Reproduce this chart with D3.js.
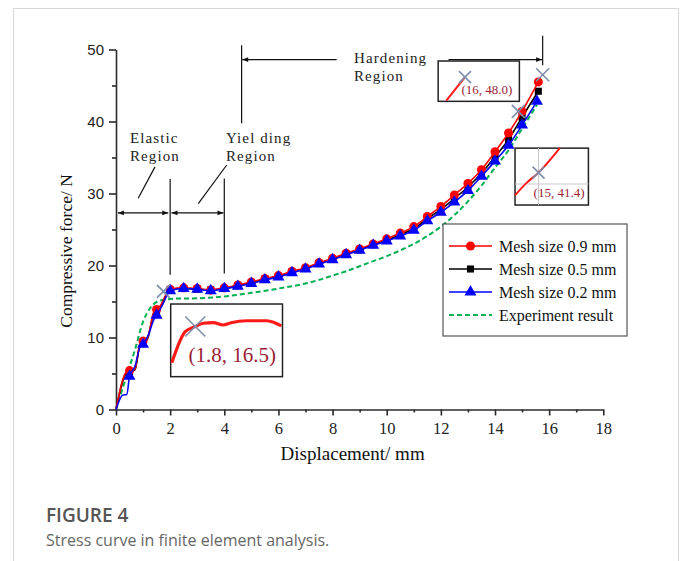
<!DOCTYPE html>
<html>
<head>
<meta charset="utf-8">
<script src="https://cdn.jsdelivr.net/npm/d3@7"></script>
<style>
body { margin: 0; background: #fff; }
</style>
</head>
<body>
<div id="chart"></div>
<script>
const width = 680, height = 561;
const SERIF = "'Liberation Serif', 'Times New Roman', serif";
const SANS = "'Liberation Sans', Arial, sans-serif";
const CAP = "'Open Sans', 'Noto Sans', sans-serif";

// displacement (mm) / force (N) for each series
const mesh09X = [0, 0.4, 0.5, 0.7, 0.9, 1, 1.15, 1.4, 1.5, 1.6, 2, 2.5, 3, 3.5, 4, 4.5, 5, 5.5, 6, 6.5, 7, 7.5, 8, 8.5, 9, 9.5, 10, 10.5, 11, 11.5, 12, 12.5, 13, 13.5, 14, 14.5, 15, 15.6];
const mesh09Y = [0, 5.3, 5.4, 5.6, 9.4, 9.5, 9.8, 13.6, 13.9, 14.2, 16.7, 16.9, 16.8, 16.6, 16.9, 17.3, 17.7, 18.2, 18.6, 19.2, 19.7, 20.4, 21.0, 21.7, 22.3, 23.0, 23.7, 24.5, 25.4, 26.8, 28.2, 29.8, 31.4, 33.3, 35.8, 38.4, 41.4, 45.5];
const mesh05X = [0, 0.4, 0.5, 0.7, 0.9, 1, 1.15, 1.4, 1.5, 1.6, 2, 2.5, 3, 3.5, 4, 4.5, 5, 5.5, 6, 6.5, 7, 7.5, 8, 8.5, 9, 9.5, 10, 10.5, 11, 11.5, 12, 12.5, 13, 13.5, 14, 14.5, 15, 15.6];
const mesh05Y = [0, 5.1, 5.2, 5.5, 9.2, 9.4, 9.7, 13.4, 13.7, 14.1, 16.6, 16.8, 16.7, 16.6, 16.8, 17.2, 17.6, 18.1, 18.5, 19.1, 19.6, 20.3, 20.9, 21.6, 22.2, 22.9, 23.5, 24.3, 25.1, 26.5, 27.8, 29.3, 30.9, 32.8, 35.1, 37.5, 40.6, 44.2];
const mesh02X = [0, 0.25, 0.4, 0.5, 0.7, 0.9, 1, 1.2, 1.4, 1.5, 1.7, 2, 2.5, 3, 3.5, 4, 4.5, 5, 5.5, 6, 6.5, 7, 7.5, 8, 8.5, 9, 9.5, 10, 10.5, 11, 11.5, 12, 12.5, 13, 13.5, 14, 14.5, 15, 15.55];
const mesh02Y = [0, 2.0, 2.1, 4.6, 6.0, 8.8, 9.05, 10.4, 12.5, 13.1, 14.4, 16.5, 16.8, 16.7, 16.5, 16.8, 17.1, 17.5, 18.0, 18.4, 19.0, 19.5, 20.2, 20.8, 21.5, 22.1, 22.8, 23.4, 24.1, 24.9, 26.2, 27.4, 28.8, 30.4, 32.4, 34.5, 36.7, 39.5, 42.8];
const expX = [0, 0.3, 0.7, 1, 1.25, 1.6, 2.2, 3, 4, 5, 6, 7, 7.5, 8, 8.5, 9, 9.5, 10, 10.5, 11, 11.5, 12, 12.5, 13, 13.5, 14, 14.5, 15, 15.55];
const expY = [0, 3.6, 8.3, 12.2, 14.0, 15.1, 15.4, 15.45, 15.7, 16.2, 16.8, 17.5, 18.0, 18.6, 19.2, 19.9, 20.6, 21.3, 22.1, 23.0, 24.1, 25.4, 27.0, 28.9, 31.1, 33.6, 36.0, 39.0, 42.3];

const seriesNames = ["Mesh size 0.9 mm", "Mesh size 0.5 mm", "Mesh size 0.2 mm", "Experiment result"];
const xTicks = [0, 2, 4, 6, 8, 10, 12, 14, 16, 18];
const yTicks = [0, 10, 20, 30, 40, 50];

// picked points (x marks) and their labels
const pickX = [1.75, 14.86, 15.76];
const pickY = [16.4, 41.4, 46.5];
const pickLabels = ["(1.8, 16.5)", "(15, 41.4)", "(16, 48.0)"];

// zoomed curve pieces inside the three call-out boxes (box-relative 0..1)
const zoomLowX = [0.01, 0.13, 0.22, 0.29, 0.38, 0.47, 0.54, 0.68, 0.86, 0.93, 0.99];
const zoomLowY = [0.81, 0.38, 0.31, 0.265, 0.257, 0.289, 0.257, 0.23, 0.23, 0.257, 0.30];
const zoomMidX = [0, 0.15, 0.32, 0.61];
const zoomMidY = [0.83, 0.62, 0.43, 0];
const zoomTopX = [0.1, 0.33];
const zoomTopY = [0.98, 0.4];

const svg = d3.select("#chart").append("svg")
    .attr("width", width)
    .attr("height", height);

// card frame
svg.append("path")
    .attr("d", "M13.5," + (height + 2) + "V8.5H678.5V" + (height + 2))
    .attr("fill", "none")
    .attr("stroke", "#d8d8d8")
    .attr("stroke-width", 1);

const x = d3.scaleLinear().domain([0, 18]).range([116, 603.3]);
const y = d3.scaleLinear().domain([0, 50]).range([409.5, 49.5]);

const defs = svg.append("defs");
defs.append("marker").attr("id", "ah")
    .attr("viewBox", "0 0 10 10").attr("refX", 10).attr("refY", 5)
    .attr("markerWidth", 7).attr("markerHeight", 5)
    .attr("orient", "auto-start-reverse")
    .append("path").attr("d", "M0,1L10,5L0,9Z").attr("fill", "#111");

// axes
const axisColor = "#2a2a2a";
const yAxis = svg.append("g").attr("transform", "translate(" + x(0) + ",0)")
    .call(d3.axisLeft(y).tickValues(yTicks).tickSize(7).tickPadding(5).tickSizeOuter(0));
svg.append("g").attr("transform", "translate(" + x(0) + ",0)")
    .call(d3.axisLeft(y).tickValues([5, 15, 25, 35, 45]).tickSize(4).tickFormat("").tickSizeOuter(0))
    .select(".domain").remove();
const xAxis = svg.append("g").attr("transform", "translate(0," + y(0) + ")")
    .call(d3.axisBottom(x).tickValues(xTicks).tickSize(6).tickPadding(7).tickSizeOuter(0));
svg.append("g").attr("transform", "translate(0," + y(0) + ")")
    .call(d3.axisBottom(x).tickValues(d3.range(1, 18, 2)).tickSize(3).tickFormat("").tickSizeOuter(0))
    .select(".domain").remove();

svg.selectAll(".domain, .tick line").attr("stroke", axisColor).attr("stroke-width", 1.6);
yAxis.selectAll("text").style("font-family", SANS).style("font-size", "15px").attr("fill", "#222");
xAxis.selectAll("text").style("font-family", SERIF).style("font-size", "16.5px").attr("fill", "#222");

svg.append("text")
    .attr("x", (x(0) + x(18)) / 2 - 7).attr("y", 460)
    .attr("text-anchor", "middle").style("font-family", SERIF).style("font-size", "19px").attr("fill", "#111")
    .text("Displacement/ mm");
svg.append("text")
    .attr("transform", "translate(72," + 251 + ") rotate(-90)")
    .attr("text-anchor", "middle").style("font-family", SERIF).style("font-size", "17.5px").attr("fill", "#111")
    .text("Compressive force/ N");

// region annotations
const ann = svg.append("g").attr("stroke", "#111").attr("stroke-width", 1.2).attr("fill", "none");
ann.append("line").attr("x1", x(2)).attr("x2", x(2)).attr("y1", y(32)).attr("y2", y(18.7));
ann.append("line").attr("x1", x(4)).attr("x2", x(4)).attr("y1", y(32.1)).attr("y2", y(18.9));
ann.append("line").attr("x1", x(0.07)).attr("x2", x(1.93)).attr("y1", y(27.3)).attr("y2", y(27.3))
    .attr("marker-start", "url(#ah)").attr("marker-end", "url(#ah)");
ann.append("line").attr("x1", x(2.05)).attr("x2", x(3.97)).attr("y1", y(27.3)).attr("y2", y(27.3))
    .attr("marker-start", "url(#ah)").attr("marker-end", "url(#ah)");
ann.append("line").attr("x1", x(1.44)).attr("x2", x(0.82)).attr("y1", y(33.7)).attr("y2", y(29.35));
ann.append("line").attr("x1", x(4.09)).attr("x2", x(3.04)).attr("y1", y(33.96)).attr("y2", y(28.6));
ann.append("line").attr("x1", x(4.64)).attr("x2", x(4.64)).attr("y1", y(50.6)).attr("y2", y(39.75));
ann.append("line").attr("x1", x(15.76)).attr("x2", x(15.76)).attr("y1", y(51.9)).attr("y2", y(47.8));
ann.append("line").attr("x1", x(4.66)).attr("x2", x(8.15)).attr("y1", y(48.6)).attr("y2", y(48.6))
    .attr("marker-start", "url(#ah)");
ann.append("line").attr("x1", x(12.28)).attr("x2", x(15.74)).attr("y1", y(48.6)).attr("y2", y(48.6))
    .attr("marker-end", "url(#ah)");

const regionText = [
    ["Elastic", 130, 143], ["Region", 130, 161],
    ["Yiel ding", 226, 143], ["Region", 226, 161],
    ["Hardening", 354, 63], ["Region", 354, 81]
];
svg.selectAll(".region").data(regionText).enter().append("text")
    .attr("class", "region")
    .attr("x", d => d[1]).attr("y", d => d[2])
    .style("font-family", SERIF).style("font-size", "15px")
    .attr("letter-spacing", 1.1).attr("fill", "#222")
    .text(d => d[0]);

// series
const series = [
    { xs: expX, ys: expY, color: "#00b050", dash: "5,3", marker: null },
    { xs: mesh05X, ys: mesh05Y, color: "#000", dash: null, marker: "square" },
    { xs: mesh09X, ys: mesh09Y, color: "#ff0000", dash: null, marker: "circle" },
    { xs: mesh02X, ys: mesh02Y, color: "#0000ff", dash: null, marker: "triangle" }
];
const symbols = { circle: d3.symbol(d3.symbolCircle, 64), square: d3.symbol(d3.symbolSquare, 50), triangle: d3.symbol(d3.symbolTriangle, 62) };

const line = d3.line().x(d => x(d[0])).y(d => y(d[1])).curve(d3.curveMonotoneX);

series.forEach(s => {
    const pts = s.xs.map((v, i) => [v, s.ys[i]]);
    svg.append("path").datum(pts)
        .attr("d", line)
        .attr("fill", "none")
        .attr("stroke", s.color)
        .attr("stroke-width", s.dash ? 2 : 1.6)
        .attr("stroke-dasharray", s.dash);
    if (s.marker) {
        const mk = pts.filter((p, i) => p[0] > 0 && (Math.abs(p[0] * 2 - Math.round(p[0] * 2)) < 1e-6 || i === pts.length - 1));
        svg.append("g").selectAll("path").data(mk).enter().append("path")
            .attr("d", symbols[s.marker])
            .attr("transform", d => "translate(" + x(d[0]) + "," + y(d[1]) + ")")
            .attr("fill", s.color);
    }
});

// x marks on the curves
function cross(g, cx, cy, r) {
    g.append("path")
        .attr("d", "M" + (cx - r) + "," + (cy - r) + "L" + (cx + r) + "," + (cy + r) + "M" + (cx - r) + "," + (cy + r) + "L" + (cx + r) + "," + (cy - r))
        .attr("stroke", "#7f8eaa").attr("stroke-width", 1.6).attr("fill", "none");
}
pickX.forEach((v, i) => cross(svg, x(v), y(pickY[i]), 6.5));

// call-out boxes
function callout(x0, y0, x1, y1, xs, ys, label, lx, ly, fs, lw, grid, r) {
    const bx = d3.scaleLinear().range([x(x0), x(x1)]);
    const by = d3.scaleLinear().range([y(y0), y(y1)]);
    const g = svg.append("g");
    g.append("rect").attr("x", bx(0)).attr("y", by(0))
        .attr("width", bx(1) - bx(0)).attr("height", by(1) - by(0))
        .attr("fill", "#fff").attr("stroke", "#222").attr("stroke-width", 1.5);
    if (grid) {
        g.append("line").attr("x1", bx(grid[0])).attr("x2", bx(grid[0])).attr("y1", by(0)).attr("y2", by(1))
            .attr("stroke", "#c8c8c8").attr("stroke-width", 1);
        g.append("line").attr("x1", bx(0)).attr("x2", bx(1)).attr("y1", by(grid[1])).attr("y2", by(grid[1]))
            .attr("stroke", "#c8c8c8").attr("stroke-width", 1);
    }
    g.append("path").datum(xs.map((v, i) => [v, ys[i]]))
        .attr("d", d3.line().x(d => bx(d[0])).y(d => by(d[1])).curve(d3.curveMonotoneX))
        .attr("fill", "none").attr("stroke", "#ff1a1a").attr("stroke-width", lw);
    cross(g, bx(xs[r.i]) + r.dx, by(ys[r.i]) + r.dy, r.s);
    g.append("text")
        .attr("x", bx(lx)).attr("y", by(ly))
        .attr("text-anchor", "middle").style("font-family", SERIF).style("font-size", fs + "px").attr("fill", "#9b2335")
        .text(label);
}
callout(2.02, 14.65, 6.15, 4.56, zoomLowX, zoomLowY, pickLabels[0], 0.55, 0.8, 21, 3.2, null, { i: 2, dx: 0, dy: 0, s: 10 });
callout(14.74, 36.3, 17.45, 28.4, zoomMidX, zoomMidY, pickLabels[1], 0.6, 0.86, 13, 2, [0.32, 0.63], { i: 2, dx: 0, dy: 0, s: 6 });
callout(11.9, 48.4, 14.9, 42.8, zoomTopX, zoomTopY, pickLabels[2], 0.6, 0.83, 13, 2, null, { i: 1, dx: 0, dy: 0, s: 6 });

// legend
const legend = svg.append("g").attr("transform", "translate(443,224)");
legend.append("rect").attr("width", 184).attr("height", 112)
    .attr("fill", "#fff").attr("stroke", "#555").attr("stroke-width", 1.2);
const legendOrder = [2, 1, 3, 0];
legendOrder.forEach((si, i) => {
    const s = series[si];
    const ly = 22 + i * 23;
    legend.append("line").attr("x1", 6).attr("x2", 49).attr("y1", ly).attr("y2", ly)
        .attr("stroke", s.color).attr("stroke-width", s.dash ? 2 : 1.6).attr("stroke-dasharray", s.dash);
    if (s.marker) {
        legend.append("path").attr("d", symbols[s.marker])
            .attr("transform", "translate(27.5," + ly + ")").attr("fill", s.color);
    }
    legend.append("text")
        .attr("x", 56).attr("y", ly + 5.5)
        .style("font-family", SERIF).style("font-size", "16px").attr("fill", "#111")
        .text(seriesNames[i]);
});

// caption
svg.append("text")
    .attr("x", 46).attr("y", 522)
    .style("font-family", CAP).style("font-size", "19px").attr("font-weight", 600).attr("fill", "#555")
    .text("FIGURE 4");
svg.append("text")
    .attr("x", 46).attr("y", 546)
    .style("font-family", CAP).style("font-size", "16px").attr("fill", "#666")
    .text("Stress curve in finite element analysis.");
</script>
</body>
</html>
